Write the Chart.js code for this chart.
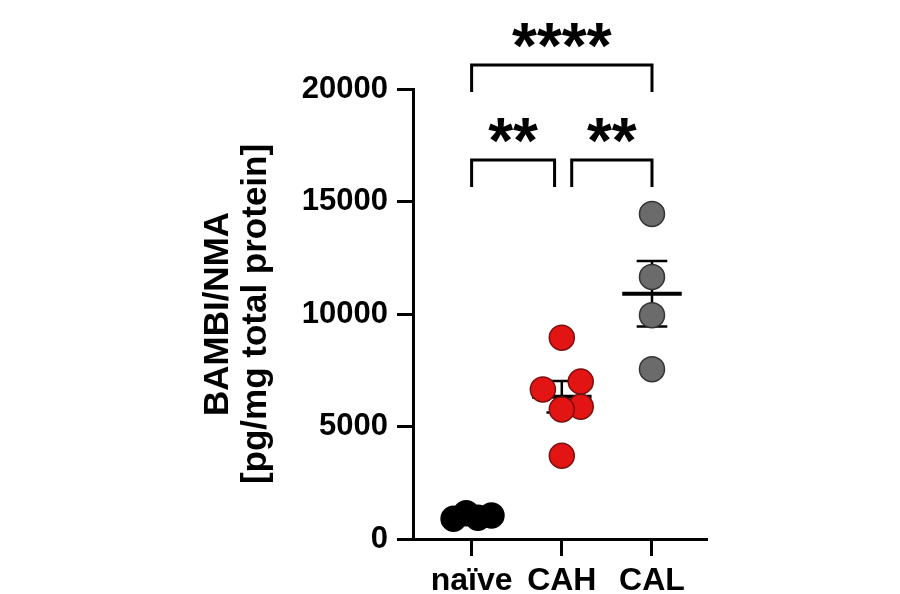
<!DOCTYPE html>
<html>
<head>
<meta charset="utf-8">
<script src="https://cdn.jsdelivr.net/npm/chart.js@4.4.1/dist/chart.umd.min.js"></script>
<style>
  html, body { margin: 0; padding: 0; background: #fff; }
  #wrap { width: 900px; height: 594px; position: relative; }
</style>
</head>
<body>
<div id="wrap"><canvas id="bambiChart"></canvas></div>
<script>
const groupLabels = ["naïve", "CAH", "CAL"];
const naiveValues = [900, 1150, 950, 1050];
const cahValues = [8950, 7000, 6650, 5880, 5760, 3700];
const calValues = [14450, 11650, 9950, 7550];
// horizontal scatter inside each group, in category units
const naiveJitter = [-0.2, -0.06, 0.07, 0.22];
const cahJitter = [0, 0.21, -0.21, 0.21, 0, 0];
const calJitter = [0, 0, 0, 0];
const yTicks = [0, 5000, 10000, 15000, 20000];

// significance comparisons: group pairs, bracket level, label
const compareFrom = [0, 1, 0];
const compareTo = [1, 2, 2];
const compareLevel = [16850, 16850, 21070];
const compareText = ["**", "**", "****"];

const fontFamily = "'Liberation Sans', Arial, Helvetica, sans-serif";

function toPoints(values, jitter, group) {
  return values.map((v, i) => ({ x: group + jitter[i], y: v }));
}

function meanOf(values) {
  return values.reduce((a, b) => a + b, 0) / values.length;
}

function semOf(values) {
  const m = meanOf(values);
  const ss = values.reduce((a, b) => a + (b - m) * (b - m), 0);
  return Math.sqrt(ss / (values.length - 1)) / Math.sqrt(values.length);
}

const groups = [naiveValues, cahValues, calValues];

const meanSemPlugin = {
  id: "meanSem",
  beforeDatasetsDraw(chart) {
    const { ctx, scales } = chart;
    const x = scales.x;
    const y = scales.y;
    ctx.save();
    ctx.strokeStyle = "#000";
    groups.forEach((values, g) => {
      const m = meanOf(values);
      const s = semOf(values);
      const cx = x.getPixelForValue(g);
      const meanW = x.getPixelForValue(g + 0.33) - cx;
      const capW = x.getPixelForValue(g + 0.17) - cx;
      const yTop = y.getPixelForValue(m + s);
      const yBot = y.getPixelForValue(m - s);
      const yMean = y.getPixelForValue(m);
      ctx.lineWidth = 2.5;
      ctx.beginPath();
      ctx.moveTo(cx, yTop);
      ctx.lineTo(cx, yBot);
      ctx.moveTo(cx - capW, yTop);
      ctx.lineTo(cx + capW, yTop);
      ctx.moveTo(cx - capW, yBot);
      ctx.lineTo(cx + capW, yBot);
      ctx.stroke();
      ctx.lineWidth = 4;
      ctx.beginPath();
      ctx.moveTo(cx - meanW, yMean);
      ctx.lineTo(cx + meanW, yMean);
      ctx.stroke();
    });
    ctx.restore();
  },
};

const bracketPlugin = {
  id: "brackets",
  afterDraw(chart) {
    const { ctx, scales } = chart;
    const x = scales.x;
    const y = scales.y;
    ctx.save();
    ctx.strokeStyle = "#000";
    ctx.fillStyle = "#000";
    ctx.lineWidth = 3;
    ctx.font = "bold 64px " + fontFamily;
    ctx.textAlign = "center";
    ctx.textBaseline = "alphabetic";
    compareFrom.forEach((from, i) => {
      const to = compareTo[i];
      // leave a small gap where two brackets meet on the same group
      const x1 = x.getPixelForValue(from + (from === 1 ? 0.11 : 0));
      const x2 = x.getPixelForValue(to - (to === 1 ? 0.08 : 0));
      const yLine = y.getPixelForValue(compareLevel[i]);
      const drop = 27;
      ctx.beginPath();
      ctx.moveTo(x1, yLine + drop);
      ctx.lineTo(x1, yLine);
      ctx.lineTo(x2, yLine);
      ctx.lineTo(x2, yLine + drop);
      ctx.stroke();
      ctx.fillText(compareText[i], (x1 + x2) / 2, yLine + 3);
    });
    ctx.restore();
  },
};

function buildChart(canvas) {
  return new Chart(canvas, {
    type: "scatter",
    data: {
      datasets: [
        {
          label: groupLabels[0],
          data: toPoints(naiveValues, naiveJitter, 0),
          backgroundColor: "#000000",
          borderColor: "#000000",
          pointRadius: 12.5,
          borderWidth: 1.5,
        },
        {
          label: groupLabels[1],
          data: toPoints(cahValues, cahJitter, 1),
          backgroundColor: "#e31414",
          borderColor: "#7a1010",
          pointRadius: 12.5,
          borderWidth: 1.5,
        },
        {
          label: groupLabels[2],
          data: toPoints(calValues, calJitter, 2),
          backgroundColor: "#6b6b6b",
          borderColor: "#333333",
          pointRadius: 12.5,
          borderWidth: 1.5,
        },
      ],
    },
    plugins: [meanSemPlugin, bracketPlugin],
    options: {
      responsive: true,
      maintainAspectRatio: false,
      animation: false,
      clip: false,
      layout: {
        padding: { top: 89, left: 195, right: 193, bottom: 0 },
      },
      plugins: {
        legend: { display: false },
        tooltip: { enabled: false },
      },
      scales: {
        x: {
          type: "linear",
          min: -0.65,
          max: 2.61,
          afterBuildTicks(scale) {
            scale.ticks = groupLabels.map((_, i) => ({ value: i }));
          },
          afterFit(scale) {
            scale.height = 55;
          },
          border: { display: true, color: "#000", width: 3 },
          grid: {
            drawOnChartArea: false,
            drawTicks: true,
            tickLength: 17,
            tickWidth: 3,
            tickColor: "#000",
          },
          ticks: {
            color: "#000",
            padding: 6,
            autoSkip: false,
            maxRotation: 0,
            font: { family: fontFamily, size: 32, weight: "bold" },
            callback(value) {
              return groupLabels[value];
            },
          },
        },
        y: {
          min: 0,
          max: 20000,
          afterBuildTicks(scale) {
            scale.ticks = yTicks.map((v) => ({ value: v }));
          },
          afterFit(scale) {
            scale.width = 218;
          },
          border: { display: true, color: "#000", width: 3 },
          grid: {
            drawOnChartArea: false,
            drawTicks: true,
            tickLength: 16,
            tickWidth: 3,
            tickColor: "#000",
          },
          ticks: {
            color: "#000",
            padding: 9,
            font: { family: fontFamily, size: 31, weight: "bold" },
            callback(value) {
              return String(value);
            },
          },
          title: {
            display: true,
            text: ["BAMBI/NMA", "[pg/mg total protein]"],
            color: "#000",
            padding: { top: 5, bottom: 0 },
            font: { family: fontFamily, size: 35, weight: "bold", lineHeight: 1.07 },
          },
        },
      },
    },
  });
}

const chartCanvas = document.getElementById("bambiChart");
if (chartCanvas && typeof Chart !== "undefined") {
  buildChart(chartCanvas);
}
</script>
</body>
</html>
